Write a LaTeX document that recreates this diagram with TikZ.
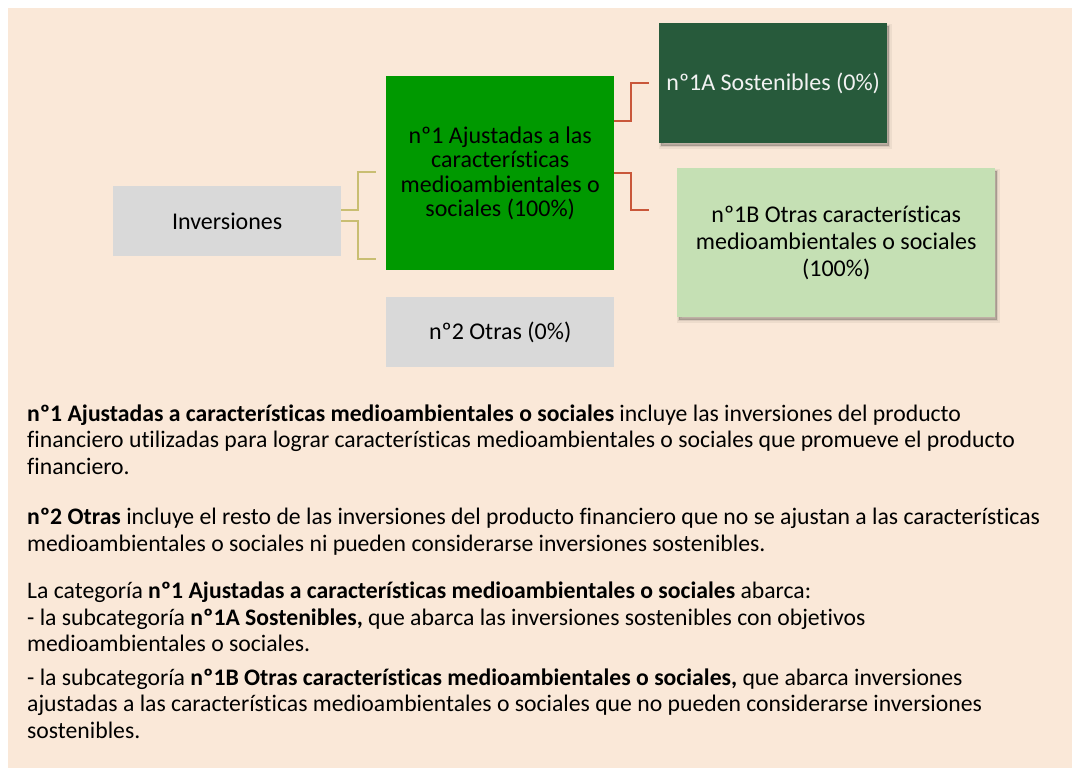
\documentclass[tikz,border=0pt]{standalone}
\usepackage{fontspec}
\setmainfont{Carlito}[Ligatures={NoCommon}]
\usetikzlibrary{shadows}
\definecolor{bg}{HTML}{FAE8D8}
\definecolor{boxgray}{HTML}{D9D9D9}
\definecolor{green1}{HTML}{009900}
\definecolor{darkgreen}{HTML}{275A3B}
\definecolor{lightgreen}{HTML}{C5E0B4}
\definecolor{yconn}{HTML}{C9BE72}
\definecolor{rconn}{HTML}{C9573A}
\definecolor{paltext}{HTML}{F2F2F2}
\tikzset{
  boxstyle/.style={rectangle, inner sep=0pt, anchor=north west, align=center, font=\fontsize{24}{24.5}\selectfont},
  shadowbox/.style={boxstyle,
    general shadow={fill=black, draw=black, line width=5pt, opacity=0.05, shadow xshift=2pt, shadow yshift=-3pt},
    general shadow={fill=black, draw=black, line width=2.5pt, opacity=0.08, shadow xshift=2pt, shadow yshift=-3pt},
    general shadow={fill=black, opacity=0.12, shadow xshift=2pt, shadow yshift=-3pt}},
  yline/.style={draw=yconn, line width=1.6pt},
  rline/.style={draw=rconn, line width=1.6pt},
  para/.style={anchor=base west, align=left, inner sep=0pt, font=\fontsize{23.7}{26.3}\selectfont}
}
\begin{document}
\begin{tikzpicture}[x=1pt,y=-1pt]
\useasboundingbox (0,0) rectangle (1072,768);
\fill[bg] (8,8) rectangle (1072,768);

% boxes
\node[boxstyle, fill=boxgray, minimum width=228pt, minimum height=70pt] (inv) at (113,186) {Inversiones};
\node[boxstyle, fill=green1, minimum width=228pt, minimum height=194pt] (n1) at (386,76)
  {nº1 Ajustadas a las\\características\\medioambientales o\\sociales (100\%)};
\node[boxstyle, fill=boxgray, minimum width=228pt, minimum height=70pt] (n2) at (386,297) {nº2 Otras (0\%)};
\node[shadowbox, fill=darkgreen, text=paltext, minimum width=228pt, minimum height=120pt] (n1a) at (659,23) {nº1A Sostenibles (0\%)};
\node[shadowbox, fill=lightgreen, minimum width=318pt, minimum height=149pt, font=\fontsize{24}{27}\selectfont] (n1b) at (677,168)
  {nº1B Otras características\\medioambientales o sociales\\(100\%)};

% connector ends
\coordinate (ya) at (376,172);
\coordinate (yb) at (376,259);
\coordinate (ra) at (649,83);
\coordinate (rb) at (649,210);

\draw[yline] (inv.east |- 0,210) -- (358,210) |- (ya);
\draw[yline] (inv.east |- 0,221) -- (358,221) |- (yb);
\draw[rline] (n1.east |- 0,121) -- (631,121) |- (ra);
\draw[rline] (n1.east |- 0,173) -- (631,173) |- (rb);

% paragraphs (anchored at the baseline of their last line)
\node[para] (p1) at (27,474) {\textbf{nº1 Ajustadas a características medioambientales o sociales} incluye las inversiones del producto\\
financiero utilizadas para lograr características medioambientales o sociales que promueve el producto\\
financiero.};
\node[para] (p2) at (27,551) {\textbf{nº2 Otras} incluye el resto de las inversiones del producto financiero que no se ajustan a las características\\
medioambientales o sociales ni pueden considerarse inversiones sostenibles.};
\node[para] (p3) at (27,738) {La categoría \textbf{nº1 Ajustadas a características medioambientales o sociales} abarca:\\
- la subcategoría \textbf{nº1A Sostenibles,} que abarca las inversiones sostenibles con objetivos\\
medioambientales o sociales.\\[7.7pt]
- la subcategoría \textbf{nº1B Otras características medioambientales o sociales,} que abarca inversiones\\
ajustadas a las características medioambientales o sociales que no pueden considerarse inversiones\\
sostenibles.};
\end{tikzpicture}
\end{document}
